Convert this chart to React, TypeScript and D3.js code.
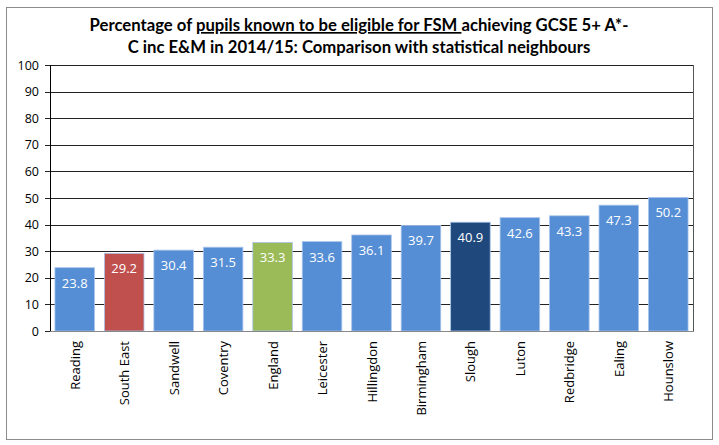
import React from 'react';
import * as d3 from 'd3';

const categories = ['Reading', 'South East', 'Sandwell', 'Coventry', 'England', 'Leicester', 'Hillingdon', 'Birmingham', 'Slough', 'Luton', 'Redbridge', 'Ealing', 'Hounslow'];
const values = [23.8, 29.2, 30.4, 31.5, 33.3, 33.6, 36.1, 39.7, 40.9, 42.6, 43.3, 47.3, 50.2];
const barColors = ['#558ED5', '#C0504D', '#558ED5', '#558ED5', '#9BBB59', '#558ED5', '#558ED5', '#558ED5', '#1F497D', '#558ED5', '#558ED5', '#558ED5', '#558ED5'];
const yTicks = [0, 10, 20, 30, 40, 50, 60, 70, 80, 90, 100];

export default function App() {
    const width = 719, height = 445;
    const left = 50, right = 693, top = 65, bottom = 331;
    const x = d3.scaleBand().domain(categories).range([left, right]).paddingInner(0.2).paddingOuter(0.1);
    const y = d3.scaleLinear().domain([0, 100]).range([bottom, top]);
    const font = "'Open Sans', sans-serif";

    return (
        <svg width={width} height={height} style={{ position: 'absolute', left: 0, top: 0 }}>
            <rect x={0} y={0} width={width} height={height} fill="#fff" />
            <rect x={6.5} y={7.5} width={706} height={432} fill="none" stroke="#8c8c8c" />
            <text x={359} y={31} textAnchor="middle" fontFamily="Lato, sans-serif" fontWeight="bold" fontSize={16.7} fill="#000">
                Percentage of <tspan textDecoration="underline">pupils known to be eligible for FSM </tspan>achieving GCSE 5+ A*-
            </text>
            <text x={359} y={53} textAnchor="middle" fontFamily="Lato, sans-serif" fontWeight="bold" fontSize={16.7} fill="#000">
                C inc E&amp;M in 2014/15: Comparison with statistical neighbours
            </text>
            {yTicks.filter(t => t > 0).map(t => (
                <line key={'g' + t} x1={left} x2={right} y1={Math.round(y(t)) + 0.5} y2={Math.round(y(t)) + 0.5} stroke="#222" />
            ))}
            <line x1={right + 0.5} x2={right + 0.5} y1={top} y2={bottom} stroke="#555" />
            {yTicks.map(t => (
                <g key={'t' + t}>
                    <line x1={left - 5} x2={left} y1={Math.round(y(t)) + 0.5} y2={Math.round(y(t)) + 0.5} stroke="#222" />
                    <text x={39} y={y(t) + 4.5} textAnchor="end" fontFamily={font} fontSize={12.5} fill="#000">{t}</text>
                </g>
            ))}
            {categories.map((c, i) => (
                <g key={c}>
                    <rect x={x(c)} y={y(values[i])} width={x.bandwidth()} height={bottom - y(values[i])} fill={barColors[i]} stroke="#a9c4eb" strokeWidth={0.8} />
                    <text x={(x(c) as number) + x.bandwidth() / 2} y={y(values[i]) + 20} textAnchor="middle" fontFamily={font} fontSize={13} fill="#fff">{values[i].toFixed(1)}</text>
                    <text transform={`translate(${(x(c) as number) + x.bandwidth() / 2 + 5},${bottom + 10}) rotate(-90)`} textAnchor="end" fontFamily={font} fontSize={13} fill="#000">{c}</text>
                </g>
            ))}
            <line x1={left + 0.5} x2={left + 0.5} y1={top} y2={bottom} stroke="#000" />
            <line x1={left} x2={right + 1} y1={bottom + 0.5} y2={bottom + 0.5} stroke="#888" />
        </svg>
    );
}
